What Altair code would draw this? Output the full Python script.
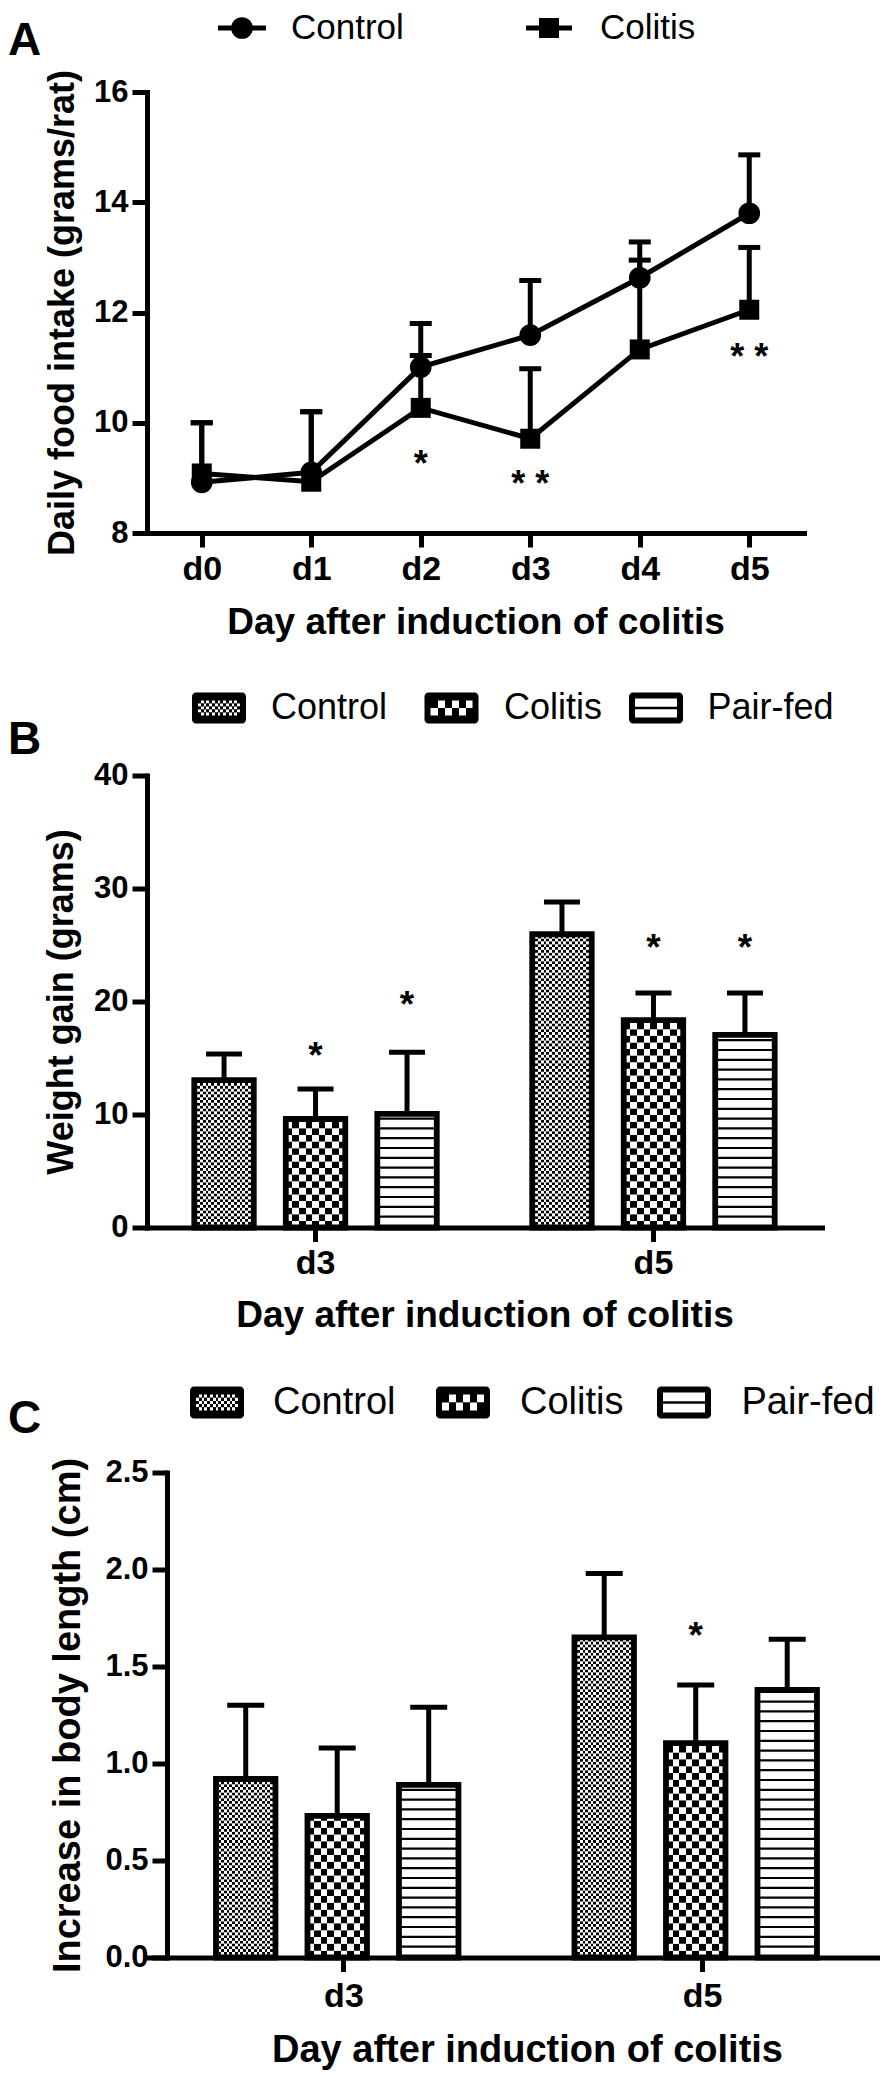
import altair as alt
import pandas as pd

FONT = "Liberation Sans"

# ---------------- Panel A : daily food intake ----------------
days = ["d0", "d1", "d2", "d3", "d4", "d5"]
series_a = ["Control", "Colitis"]
intake_control = [8.92, 9.10, 11.01, 11.59, 12.63, 13.80]
intake_control_err = [1.08, 1.10, 0.79, 0.99, 0.65, 1.06]
intake_colitis = [9.08, 8.93, 10.27, 9.71, 11.33, 12.05]
intake_colitis_err = [0.92, 1.27, 0.95, 1.27, 1.62, 1.13]
stars_a_day = ["d2", "d3", "d5"]
stars_a_text = ["*", "* *", "* *"]
stars_a_level = [9.39, 9.03, 11.33]

# ---------------- Panels B, C : bars ----------------
bar_days = ["d3", "d5"]
groups = ["Control", "Colitis", "Pair-fed"]
gain_mean = [[13.05, 25.95], [9.60, 18.35], [10.05, 17.05]]
gain_err = [[2.30, 2.85], [2.65, 2.40], [5.45, 3.70]]
stars_b_day = ["d3", "d3", "d5", "d5"]
stars_b_group = ["Colitis", "Pair-fed", "Colitis", "Pair-fed"]
stars_b_level = [15.9, 20.4, 25.4, 25.4]

length_mean = [[0.92, 1.65], [0.73, 1.105], [0.89, 1.38]]
length_err = [[0.38, 0.33], [0.35, 0.30], [0.40, 0.26]]
stars_c_day = ["d5"]
stars_c_group = ["Colitis"]
stars_c_level = [1.70]

X_TITLE = "Day after induction of colitis"


def stripes(n, first_black):
    stops = []
    for i in range(n):
        black = (i % 2 == 0) == first_black
        c = "#000000" if black else "#ffffff"
        stops.append({"offset": i / n, "color": c})
        stops.append({"offset": (i + 1) / n, "color": c})
    return {"gradient": "linear", "x1": 0, "y1": 0, "x2": 1, "y2": 0, "stops": stops}


def x_axis(label_base, title_base, title_size, band=False, title_x=None):
    kw = dict(
        title=X_TITLE, labelAngle=0, labelFontSize=34, labelFontWeight="bold",
        labelBaseline="alphabetic", labelPadding=label_base - 14, tickSize=14,
        tickWidth=5, domainWidth=5, domainCap="square", titleFontSize=title_size,
        titleFontWeight="bold", titleBaseline="alphabetic", titleY=title_base,
    )
    if band:
        kw["bandPosition"] = 0.5
    if title_x is not None:
        kw["titleX"] = title_x
    return alt.Axis(**kw)


def y_axis(values, fmt, title, title_x, H, title_size=36, offset=0):
    return alt.Axis(
        title=title, values=values, format=fmt, labelFontSize=31,
        labelFontWeight="bold", labelPadding=4, tickSize=15, tickWidth=5,
        domainWidth=5, domainCap="square", titleFontSize=title_size,
        titleFontWeight="bold", titleAngle=270, titleAlign="center",
        titleBaseline="middle", titleX=title_x, titleY=H / 2, offset=offset,
    )


def label_df(t):
    return pd.DataFrame({"t": [t]})


def letter_layer(letter, y_base):
    return alt.Chart(label_df(letter)).mark_text(
        align="left", baseline="alphabetic", fontSize=46, fontWeight="bold", color="black"
    ).encode(x=alt.value(-139), y=alt.value(y_base), text="t:N")


# ---------------- Panel A ----------------
def panel_a():
    W, H = 657, 441
    rows = []
    for s, vals, errs in [("Control", intake_control, intake_control_err),
                          ("Colitis", intake_colitis, intake_colitis_err)]:
        for d, v, e in zip(days, vals, errs):
            rows.append({"day": d, "series": s, "value": v, "err": e})
    df = pd.DataFrame(rows)
    x = alt.X("day:N", scale=alt.Scale(type="point", domain=days, padding=0.5),
              axis=x_axis(46, 100, 37))
    ysc = alt.Scale(domain=[8, 16], nice=False, zero=False)
    yax = y_axis([8, 10, 12, 14, 16], "d", "Daily food intake (grams/rat)", -85, H)

    def Y(f):
        return alt.Y(f, scale=ysc, axis=yax)

    base = alt.Chart(df)
    lines = base.mark_line(color="black", strokeWidth=5).encode(x=x, y=Y("value:Q"), detail="series:N")
    withtop = base.transform_calculate(top="datum.value + datum.err")
    errs = withtop.mark_rule(color="black", strokeWidth=5).encode(x=x, y=Y("value:Q"), y2="top:Q")
    caps = withtop.mark_tick(color="black", thickness=5, size=22, opacity=1).encode(x=x, y=Y("top:Q"))
    pts = []
    for s, sh, sz in zip(series_a, ["circle", "square"], [470, 400]):
        pts.append(base.transform_filter(alt.datum.series == s).mark_point(
            shape=sh, size=sz, filled=True, color="black", opacity=1).encode(x=x, y=Y("value:Q")))
    sdf = pd.DataFrame({"day": stars_a_day, "txt": stars_a_text, "level": stars_a_level})
    stars = alt.Chart(sdf).mark_text(fontSize=36, fontWeight="bold", dy=9, color="black").encode(
        x=x, y=Y("level:Q"), text="txt:N")

    # legend (line + symbol + text)
    leg = []
    ly = -64
    for s, sh, sz, lx0, lx1, sx, tx in zip(series_a, ["circle", "square"], [470, 400],
                                          [71, 379], [119, 425], [95, 402], [144, 453]):
        leg.append(alt.Chart(label_df(s)).mark_rule(color="black", strokeWidth=5).encode(
            x=alt.value(lx0), x2=alt.value(lx1), y=alt.value(ly)))
        leg.append(alt.Chart(label_df(s)).mark_point(shape=sh, size=sz, filled=True, color="black", opacity=1).encode(
            x=alt.value(sx), y=alt.value(ly)))
        leg.append(alt.Chart(label_df(s)).mark_text(align="left", baseline="middle", fontSize=35, color="black").encode(
            x=alt.value(tx), y=alt.value(ly), text="t:N"))

    return alt.layer(lines, errs, caps, *pts, stars, *leg, letter_layer("A", -37)).properties(width=W, height=H)


# ---------------- Panels B / C ----------------
def bar_panel(means, errs, st_day, st_group, st_level, P):
    W, H, ymax = P["W"], P["H"], P["ymax"]
    ppu = H / ymax
    rows = []
    for g, m, e in zip(groups, means, errs):
        for d, mv, ev in zip(bar_days, m, e):
            rows.append({"day": d, "group": g, "mean": mv, "err": ev})
    df = pd.DataFrame(rows)

    x = alt.X("day:N", scale=P["xscale"],
              axis=x_axis(P["label_base"], P["title_base"], P["title_size"], band=True,
                          title_x=P.get("xtitle_x")))
    xo = alt.XOffset("group:N", scale=P["xoscale"])
    ysc = alt.Scale(domain=[0, ymax], nice=False, zero=True)
    yax = y_axis(P["yvals"], P["fmt"], P["ytitle"], P["title_x"], H, P["ytitle_size"], P.get("yoffset", 0))

    def Y(f):
        return alt.Y(f, scale=ysc, axis=yax)

    base = alt.Chart(df)
    layers = []
    # checkerboard patterns (rows of alternating stripes)
    for g, ncols in [("Control", P["ctrl_cols"]), ("Colitis", P["col_cols"])]:
        cell = P["bar_w"] / ncols
        step = cell / ppu
        g0, g1 = stripes(ncols, True), stripes(ncols, False)
        layers.append(
            base.transform_filter(alt.datum.group == g)
            .transform_calculate(row=f"sequence(0, datum.mean, {step})")
            .transform_flatten(["row"])
            .transform_calculate(row2=f"min(datum.row + {step}, datum.mean)",
                                 par=f"round(datum.row / {step}) % 2")
            .mark_bar()
            .encode(x=x, xOffset=xo, y=Y("row:Q"), y2="row2:Q",
                    fill=alt.condition("datum.par == 0", alt.value(g0), alt.value(g1)))
        )
    # horizontal lines pattern
    gap = 9.8 / ppu
    lw = 2.2 / ppu
    layers.append(
        base.transform_filter(alt.datum.group == "Pair-fed")
        .transform_calculate(row=f"sequence({gap}, datum.mean - {lw}, {gap})")
        .transform_flatten(["row"])
        .transform_calculate(row2=f"datum.row + {lw}")
        .mark_bar(color="black")
        .encode(x=x, xOffset=xo, y=Y("row:Q"), y2="row2:Q")
    )
    # outlines
    layers.append(base.mark_bar(fill="white", fillOpacity=0, stroke="black", strokeWidth=5.8,
                                strokeJoin="miter").encode(x=x, xOffset=xo, y=Y("mean:Q")))
    withtop = base.transform_calculate(top="datum.mean + datum.err")
    layers.append(withtop.mark_rule(color="black", strokeWidth=5).encode(x=x, xOffset=xo, y=Y("mean:Q"), y2="top:Q"))
    layers.append(withtop.mark_tick(color="black", thickness=5, size=P["cap"], opacity=1).encode(
        x=x, xOffset=xo, y=Y("top:Q")))
    sdf = pd.DataFrame({"day": st_day, "group": st_group, "level": st_level, "txt": ["*"] * len(st_day)})
    layers.append(alt.Chart(sdf).mark_text(fontSize=37, fontWeight="bold", dy=9, color="black").encode(
        x=x, xOffset=xo, y=Y("level:Q"), text="txt:N"))

    # legend
    top, h = P["sym_top"], P["sym_h"]
    for i, g in enumerate(groups):
        x0 = P["sym_x"][i]
        layers.append(alt.Chart(label_df(g)).mark_rect(color="black", cornerRadius=4).encode(
            x=alt.value(x0), x2=alt.value(x0 + 54), y=alt.value(top), y2=alt.value(top + h)))
        if g == "Pair-fed":
            layers.append(alt.Chart(label_df(g)).mark_rect(color="white").encode(
                x=alt.value(x0 + 6), x2=alt.value(x0 + 48), y=alt.value(top + 6), y2=alt.value(top + h - 6)))
            mid = top + h / 2
            layers.append(alt.Chart(label_df(g)).mark_rect(color="black").encode(
                x=alt.value(x0 + 6), x2=alt.value(x0 + 48), y=alt.value(mid - 1.2), y2=alt.value(mid + 1.2)))
        else:
            ncols, nrows = (15, 5) if g == "Control" else (6, 2)
            y0, y1 = top + 8, top + h - 8
            ch = (y1 - y0) / nrows
            for k in range(nrows):
                layers.append(alt.Chart(label_df(g)).mark_rect(fill=stripes(ncols, k % 2 == 0)).encode(
                    x=alt.value(x0 + 6), x2=alt.value(x0 + 48),
                    y=alt.value(y0 + k * ch), y2=alt.value(y0 + (k + 1) * ch)))
        layers.append(alt.Chart(label_df(g)).mark_text(align="left", baseline="middle",
                                                       fontSize=P["lfont"], color="black").encode(
            x=alt.value(P["text_x"][i]), y=alt.value(top + h / 2), text="t:N"))
    layers.append(letter_layer(P["letter"], P["letter_base"]))
    return alt.layer(*layers).properties(width=W, height=H)


PB = dict(W=675, H=452, ymax=40, yvals=[0, 10, 20, 30, 40], fmt="d", ytitle="Weight gain (grams)",
          title_x=-86, ytitle_size=36,
          xscale=alt.Scale(domain=bar_days, paddingInner=0.2825, paddingOuter=0.14),
          xoscale=alt.Scale(domain=groups, paddingInner=0.35, paddingOuter=0),
          bar_w=59.5, ctrl_cols=21, col_cols=9, cap=36, label_base=46, title_base=99, title_size=37,
          sym_x=[45, 277.5, 482], text_x=[124, 357, 560.5], sym_top=-83, sym_h=31, lfont=36,
          letter="B", letter_base=-22)

PC = dict(W=733, H=485, ymax=2.5, yvals=[0, 0.5, 1.0, 1.5, 2.0, 2.5], fmt=".1f",
          ytitle="Increase in body length (cm)", title_x=-99, ytitle_size=38, yoffset=-20,
          xscale=alt.Scale(domain=bar_days, paddingInner=0.286, paddingOuter=0.1653, align=0.582),
          xoscale=alt.Scale(domain=groups, paddingInner=0.368, paddingOuter=0),
          bar_w=61.5, ctrl_cols=22, col_cols=9, cap=37, label_base=49, title_base=104, title_size=38,
          xtitle_x=380,
          sym_x=[43, 289, 510], text_x=[126, 373, 594.5], sym_top=-86, sym_h=32, lfont=38,
          letter="C", letter_base=-40)

chart_a = panel_a()
chart_b = bar_panel(gain_mean, gain_err, stars_b_day, stars_b_group, stars_b_level, PB)
chart_c = bar_panel(length_mean, length_err, stars_c_day, stars_c_group, stars_c_level, PC)

chart = (
    alt.vconcat(alt.vconcat(chart_a, chart_b, spacing=49.5), chart_c, spacing=49.5)
    .properties(padding={"left": 0, "top": 3, "right": 0, "bottom": 0})
    .configure(font=FONT)
    .configure_view(strokeWidth=0)
    .configure_axis(grid=False, domainColor="black", tickColor="black", labelColor="black",
                    titleColor="black", labelFont=FONT, titleFont=FONT)
)

chart.save("out.html", embed_options={"renderer": "svg", "actions": False})
